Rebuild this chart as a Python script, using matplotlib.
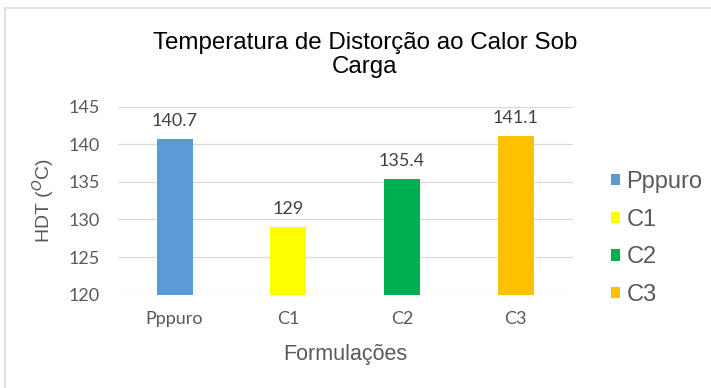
import matplotlib.pyplot as plt
from matplotlib.patches import Rectangle

categories = ["Pppuro", "C1", "C2", "C3"]
hdt = [140.7, 129, 135.4, 141.1]
colors = ["#5B9BD5", "#FFFF00", "#00B050", "#FFC000"]

plt.rcParams['font.family'] = ['Liberation Sans', 'DejaVu Sans']
tick_font = ['Lato', 'DejaVu Sans']

fig = plt.figure(figsize=(7.11, 3.88), dpi=100)
ax = fig.add_axes([0.1655, 0.2405, 0.640, 0.4845])

x = range(len(categories))
bars = ax.bar(x, hdt, width=0.316, color=colors, label=categories, zorder=3)

for i, v in enumerate(hdt):
    ax.annotate(f"{v:g}", (i, v), xytext=(0, 7), textcoords="offset points",
                ha="center", va="bottom", fontsize=13, color="#404040",
                family=tick_font)

ax.set_ylim(120, 145)
ax.set_xlim(-0.5, len(categories) - 0.5)
ax.set_yticks(range(120, 146, 5))
ax.set_xticks(list(x))
ax.set_xticklabels(categories)
ax.tick_params(axis="both", length=0, labelsize=13, labelcolor="#595959")
ax.tick_params(axis="y", pad=13)
ax.tick_params(axis="x", pad=12)
for lbl in ax.get_xticklabels() + ax.get_yticklabels():
    lbl.set_family(tick_font)
ax.grid(axis="y", color="#D9D9D9", linewidth=0.9, zorder=0)
for s in ax.spines.values():
    s.set_visible(False)

ax.set_ylabel("HDT ($^{O}$C)", fontsize=14, color="#595959", labelpad=9)
ax.set_xlabel("Formulações", fontsize=15.5, color="#595959", labelpad=12)

fig.text(0.513, 0.858, "Temperatura de Distorção ao Calor Sob\nCarga",
         ha="center", va="center", fontsize=17.4, color="black", linespacing=1.15)

fig.legend(handles=bars.patches, labels=categories, loc="center left",
           bbox_to_anchor=(0.8295, 0.385), frameon=False, fontsize=17,
           labelcolor="#595959", handlelength=0.36, handleheight=0.36,
           handletextpad=0.3, labelspacing=0.66)

# light frame around the chart area
fig.patches.append(Rectangle((0.007, -0.05), 1.1, 1.03, transform=fig.transFigure,
                             fill=False, edgecolor="#D9D9D9", linewidth=1.2))

fig.savefig("out.png", dpi=100)
